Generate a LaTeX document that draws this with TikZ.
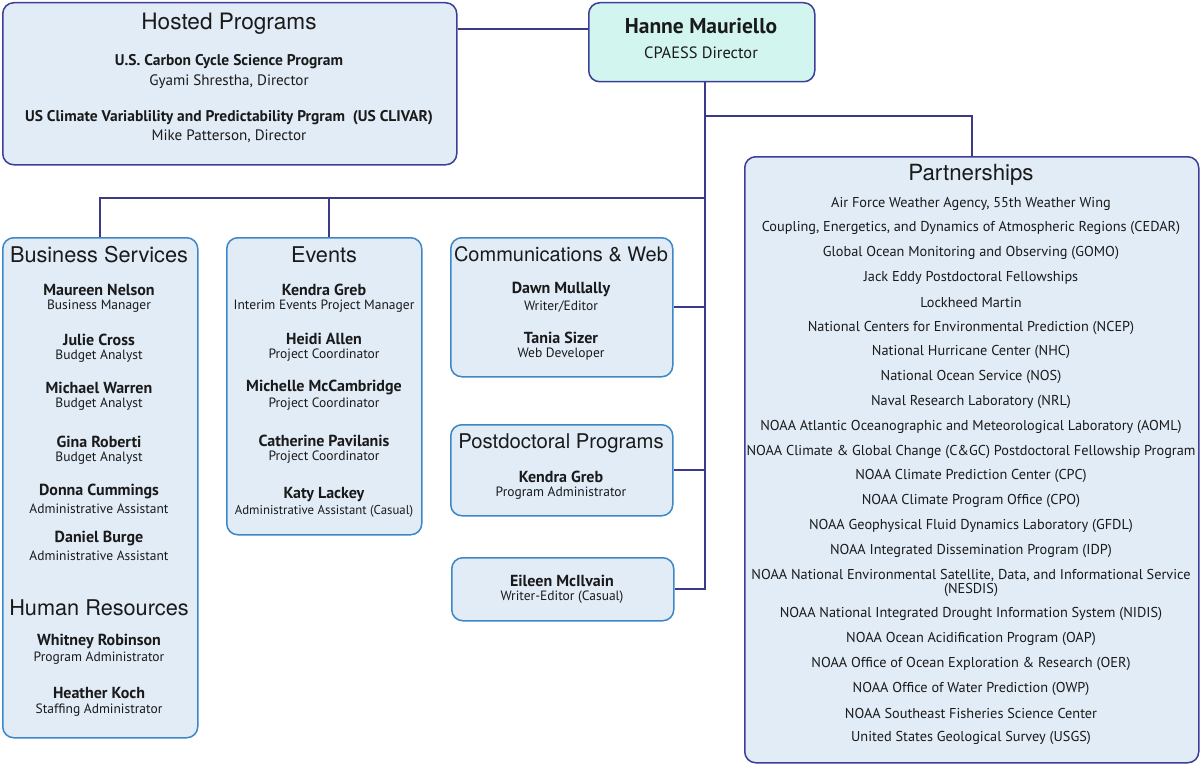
\documentclass[tikz,border=0pt]{standalone}
\usepackage{fontspec}
\setmainfont{PT Sans}
\newfontfamily\headfont{TeX Gyre Heros}
\definecolor{navy}{HTML}{3C3F99}
\definecolor{blueline}{HTML}{3D87C7}
\definecolor{boxfill}{HTML}{E2ECF7}
\definecolor{dirfill}{HTML}{D2F6EF}
\definecolor{linkcol}{HTML}{3B3A86}
\definecolor{ink}{HTML}{1A1A1A}
\begin{document}
\begin{tikzpicture}[x=1pt, y=-1pt,
	box/.style={draw=#1, line width=1.5pt, rounded corners=11pt,
		fill=boxfill, anchor=north west, inner sep=0pt},
	head/.style={font=\headfont\fontsize{#1}{24}\selectfont, inner sep=0pt, text=ink, yshift=-1.5pt},
	head/.default=22,
	nm/.style={font=\bfseries\fontsize{16}{18}\selectfont, inner sep=0pt, text=ink, yshift=-1.5pt},
	ti/.style={font=\fontsize{13.5}{14}\selectfont, inner sep=0pt, text=ink, yshift=-1.5pt},
	txt/.style={font=\fontsize{15.1}{16}\selectfont, inner sep=0pt, text=ink, yshift=-1.5pt},
	pt/.style={font=\fontsize{14.3}{14}\selectfont, inner sep=0pt, align=center, text=ink, yshift=-1.5pt},
	link/.style={draw=linkcol, line width=1.6pt}]
\useasboundingbox (0,0) rectangle (1200,776);
% boxes
\node[box=navy, minimum width=454pt, minimum height=162pt] (hosted) at (2,2) {};
\node[box=navy, fill=dirfill, minimum width=226pt, minimum height=79pt] (director) at (588,2) {};
\node[box=navy, minimum width=454pt, minimum height=606pt] (partners) at (744,156) {};
\node[box=blueline, minimum width=195pt, minimum height=500pt] (business) at (2,237) {};
\node[box=blueline, minimum width=195pt, minimum height=297pt] (events) at (226,237) {};
\node[box=blueline, minimum width=222pt, minimum height=139pt] (comms) at (450,237) {};
\node[box=blueline, minimum width=222pt, minimum height=91pt] (postdoc) at (450,424) {};
\node[box=blueline, minimum width=222pt, minimum height=63pt] (eileen) at (451,557) {};
% connectors
\coordinate (trunk) at ([xshift=3pt]director.south);
\draw[link] (hosted.east |- 0,29) -- (director.west |- 0,29);
\draw[link] (trunk) |- (eileen.east);
\draw[link] (comms.east) -- (trunk |- comms.east);
\draw[link] (postdoc.east) -- (trunk |- postdoc.east);
\draw[link] (trunk |- 0,116) -| (partners.north);
\draw[link] (trunk |- 0,198) -| (business.north);
\draw[link] ([xshift=4.5pt]events.north) -- ([xshift=4.5pt]events.north |- 0,198);
% hosted programs
\node[head=22.6] (hostedT) at (229,22) {Hosted Programs};
\node[nm, font=\bfseries\fontsize{15.5}{18}\selectfont] (carbon) at (229,60) {U.S. Carbon Cycle Science Program};
\node[txt] (carbonD) at (229,80) {Gyami Shrestha, Director};
\node[nm, font=\bfseries\fontsize{15.5}{18}\selectfont] (clivar) at (229,116) {US Climate Variablility and Predictability Prgram\ \ (US CLIVAR)};
\node[txt] (clivarD) at (229,135) {Mike Patterson, Director};
% director
\node[nm, font=\bfseries\fontsize{21.5}{22}\selectfont] (dirN) at (701,25) {Hanne Mauriello};
\node[txt, font=\fontsize{16.4}{18}\selectfont] (dirT) at (701,51) {CPAESS Director};
% business services
\node[head=21.7] (businessT) at (99,253) {Business Services};
\node[head=21.7] (hr) at (99,606) {Human Resources};
\foreach \n/\t/\y [count=\i] in {Maureen Nelson/Business Manager/288,
	Julie Cross/Budget Analyst/338, Michael Warren/Budget Analyst/386,
	Gina Roberti/Budget Analyst/440, Donna Cummings/Administrative Assistant/490,
	Daniel Burge/Administrative Assistant/537, Whitney Robinson/Program Administrator/640,
	Heather Koch/Staffing Administrator/692}
	{\node[nm] (bs\i) at (99,\y) {\n}; \node[ti] (bst\i) at (99,\y+17) {\t};}
% events
\node[head=21.7] (eventsT) at (324,253) {Events};
\foreach \n/\t/\y [count=\i] in {Kendra Greb/Interim Events Project Manager/288,
	Heidi Allen/Project Coordinator/337, Michelle McCambridge/Project Coordinator/386,
	Catherine Pavilanis/Project Coordinator/439}
	{\node[nm] (ev\i) at (324,\y) {\n}; \node[ti] (evt\i) at (324,\y+17) {\t};}
\node[nm] (ev5) at (324,493) {Katy Lackey};
\node[ti, font=\fontsize{12.8}{14}\selectfont] (evt5) at (324,510) {Administrative Assistant (Casual)};
% communications, postdocs
\node[head=20] (commsT) at (561,253) {Communications \& Web};
\node[nm] (cm1) at (561,288) {Dawn Mullally};
\node[ti] (cmt1) at (561,305) {Writer/Editor};
\node[nm] (cm2) at (561,336) {Tania Sizer};
\node[ti] (cmt2) at (561,353) {Web Developer};
\node[head=20.3] (postdocT) at (561,442) {Postdoctoral Programs};
\node[nm] (pd1) at (561,475) {Kendra Greb};
\node[ti] (pdt1) at (561,492) {Program Administrator};
\node[nm] (el1) at (562,579) {Eileen McIlvain};
\node[ti] (elt1) at (562,596) {Writer-Editor (Casual)};
% partnerships
\node[head=22.3] (partnersT) at (971,173) {Partnerships};
\foreach \t [count=\i] in {{Air Force Weather Agency, 55th Weather Wing},
	{Coupling, Energetics, and Dynamics of Atmospheric Regions (CEDAR)},
	Global Ocean Monitoring and Observing (GOMO), Jack Eddy Postdoctoral Fellowships,
	Lockheed Martin, National Centers for Environmental Prediction (NCEP),
	National Hurricane Center (NHC), National Ocean Service (NOS),
	Naval Research Laboratory (NRL),
	NOAA Atlantic Oceanographic and Meteorological Laboratory (AOML),
	NOAA Climate \& Global Change (C\&GC) Postdoctoral Fellowship Program,
	NOAA Climate Prediction Center (CPC), NOAA Climate Program Office (CPO),
	NOAA Geophysical Fluid Dynamics Laboratory (GFDL),
	NOAA Integrated Dissemination Program (IDP),
	{NOAA National Environmental Satellite, Data, and Informational Service\\(NESDIS)},
	NOAA National Integrated Drought Information System (NIDIS),
	NOAA Ocean Acidification Program (OAP),
	NOAA Office of Ocean Exploration \& Research (OER),
	NOAA Office of Water Prediction (OWP),
	NOAA Southeast Fisheries Science Center,
	United States Geological Survey (USGS)}
	\node[pt] (pa\i) at (971,{202+24.8*(\i-1)+14*(\i>16)+7*(\i==16)}) {\t};
\end{tikzpicture}
\end{document}
